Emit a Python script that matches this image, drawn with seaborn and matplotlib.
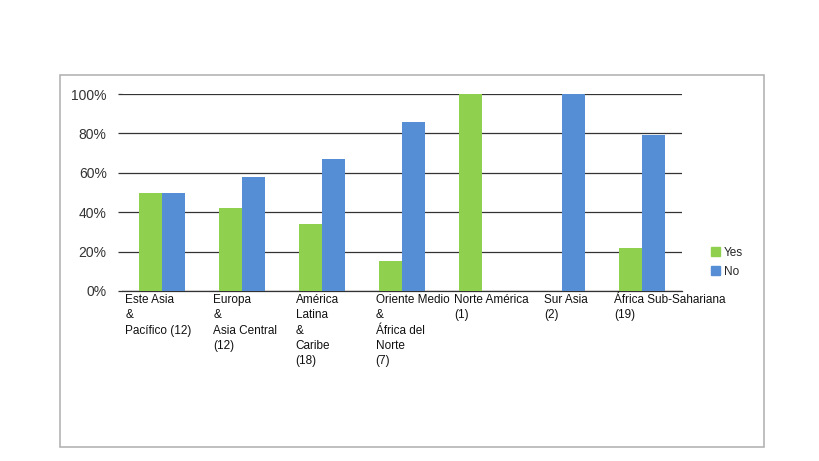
import matplotlib.pyplot as plt
import matplotlib as mpl
import matplotlib.patches as mpatches
import seaborn as sns
import pandas as pd
from matplotlib.ticker import PercentFormatter

# Data
regions = ["Este Asia\n&\nPacífico (12)",
           "Europa\n&\nAsia Central\n(12)",
           "América\nLatina\n&\nCaribe\n(18)",
           "Oriente Medio\n&\nÁfrica del\nNorte\n(7)",
           "Norte América\n(1)",
           "Sur Asia\n(2)",
           "África Sub-Sahariana\n(19)"]
yes_share = [0.50, 0.42, 0.34, 0.15, 1.00, 0.00, 0.22]
no_share = [0.50, 0.58, 0.67, 0.86, 0.00, 1.00, 0.79]
series = ["Yes", "No"]
y_ticks = [0, 0.2, 0.4, 0.6, 0.8, 1.0]

sns.set_style("white")
mpl.rcParams['font.family'] = ['Liberation Sans', 'DejaVu Sans']

df = pd.DataFrame({
    "region": regions * 2,
    "answer": [series[0]] * len(regions) + [series[1]] * len(regions),
    "share": yes_share + no_share,
})

W, H = 820, 461
fig = plt.figure(figsize=(W / 100, H / 100), dpi=100)
ax = fig.add_axes([122 / W, (H - 291) / H, 560 / W, 197 / H])

palette = {"Yes": "#8fd14f", "No": "#558ed5"}
sns.barplot(data=df, x="region", y="share", hue="answer", palette=palette,
            width=0.57, gap=0, saturation=1, ax=ax, legend=False, zorder=3,
            linewidth=0)

ax.set_ylim(0, 1)
ax.set_xlim(-0.5, len(regions) - 0.5)
ax.set_yticks(y_ticks)
ax.yaxis.set_major_formatter(PercentFormatter(1.0, decimals=0))
ax.tick_params(axis='y', labelsize=10, length=3, width=0.9, color='#333333',
               pad=8, labelcolor='#333333', left=True)
ax.grid(axis='y', color='#333333', lw=0.9, zorder=1)
ax.set_xticks([])
ax.set_xlabel("")
ax.set_ylabel("")
for side in ["left", "right", "top"]:
    ax.spines[side].set_visible(False)
ax.spines["bottom"].set_color('#333333')
ax.spines["bottom"].set_linewidth(0.9)

# category labels, left aligned below the axis
label_shift = [-0.46, -0.36, -0.33, -0.33, -0.35, -0.22, -0.35]
for i, lab in enumerate(regions):
    ax.text(i + label_shift[i], -0.015, lab, ha='left', va='top',
            fontsize=8.5, linespacing=1.37, color='#111111', clip_on=False)

handles = [mpatches.Patch(color=palette[s], label=s) for s in series]
fig.legend(handles=handles, loc='upper left',
           bbox_to_anchor=(700 / W, (H - 236) / H), frameon=False,
           fontsize=8.5, handlelength=0.8, handleheight=0.8,
           handletextpad=0.3, labelspacing=0.6)

# outer chart frame
fig.patches.append(mpatches.Rectangle((60 / W, (H - 447) / H), 704 / W, 372 / H,
                                      transform=fig.transFigure, fill=False,
                                      edgecolor='#b4b4b4', lw=1.2))

fig.savefig("out.png", dpi=100)
